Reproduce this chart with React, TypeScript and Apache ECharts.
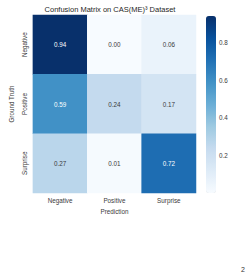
import React, { useEffect, useRef } from "react";
import * as echarts from "echarts";

// Confusion matrix rows = ground truth, columns = prediction
const classes = ["Negative", "Positive", "Surprise"];
const rowNegative = [0.94, 0.0, 0.06];
const rowPositive = [0.59, 0.24, 0.17];
const rowSurprise = [0.27, 0.01, 0.72];
const colorbarTicks = [0.2, 0.4, 0.6, 0.8];

// matplotlib "Blues"
const blues = [
  "#f7fbff",
  "#deebf7",
  "#c6dbef",
  "#9ecae1",
  "#6baed6",
  "#4292c6",
  "#2171b5",
  "#08519c",
  "#08306b",
];

const FONT = "Liberation Sans, Arial, sans-serif";

export default function App() {
  const ref = useRef<HTMLDivElement>(null);

  useEffect(() => {
    if (!ref.current) return;
    const chart = echarts.init(ref.current, null, { renderer: "svg" });

    const rows = [rowNegative, rowPositive, rowSurprise];
    const vmax = Math.max(...rows.flat());
    const data: any[] = [];
    rows.forEach((row, yi) => {
      row.forEach((v, xi) => {
        data.push({
          value: [xi, yi, v],
          label: { color: v > vmax / 2 ? "#ffffff" : "#3a3a3a" },
        });
      });
    });

    chart.setOption({
      animation: false,
      backgroundColor: "#ffffff",
      title: {
        text: "Confusion Matrix on CAS(ME)³ Dataset",
        left: 110,
        textAlign: "center",
        top: 5,
        padding: 0,
        textStyle: {
          fontFamily: FONT,
          fontSize: 7.5,
          fontWeight: "normal",
          color: "#262626",
        },
      },
      grid: [
        { left: 25, top: 15, width: 171, height: 178 },
        { left: 206, top: 16, width: 10, height: 177 },
      ],
      xAxis: [
        {
          type: "category",
          gridIndex: 0,
          data: classes,
          name: "Prediction",
          nameLocation: "middle",
          nameGap: 15,
          nameTextStyle: { fontFamily: FONT, fontSize: 6.3, color: "#3a3a3a" },
          axisLine: { show: false },
          axisTick: { show: false },
          splitLine: { show: false },
          axisLabel: {
            fontFamily: FONT,
            fontSize: 6.3,
            color: "#3a3a3a",
            margin: 4,
          },
        },
        {
          type: "value",
          gridIndex: 1,
          show: false,
          min: 0,
          max: 1,
        },
      ],
      yAxis: [
        {
          type: "category",
          gridIndex: 0,
          data: classes,
          inverse: true,
          name: "Ground Truth",
          nameLocation: "middle",
          nameGap: 18,
          nameRotate: 90,
          nameTextStyle: { fontFamily: FONT, fontSize: 6.3, color: "#3a3a3a" },
          axisLine: { show: false },
          axisTick: { show: false },
          splitLine: { show: false },
          axisLabel: {
            fontFamily: FONT,
            fontSize: 6.3,
            color: "#3a3a3a",
            rotate: 90,
            margin: 8,
            verticalAlign: "middle",
            align: "center",
          },
        },
        {
          type: "value",
          gridIndex: 1,
          position: "right",
          min: 0,
          max: vmax,
          interval: 0.2,
          axisLine: { show: false },
          splitLine: { show: false },
          axisTick: {
            show: true,
            length: 2,
            lineStyle: { color: "#3a3a3a", width: 1 },
            customValues: colorbarTicks,
          },
          axisLabel: {
            fontFamily: FONT,
            fontSize: 6.3,
            color: "#3a3a3a",
            margin: 3,
            customValues: colorbarTicks,
            formatter: (v: number) => v.toFixed(1),
          },
        },
      ],
      visualMap: {
        type: "continuous",
        min: 0,
        max: vmax,
        calculable: false,
        seriesIndex: 0,
        orient: "vertical",
        left: 206,
        top: 16,
        padding: 0,
        itemWidth: 10,
        itemHeight: 177,
        text: ["", ""],
        showLabel: false,
        inRange: { color: blues },
      },
      series: [
        {
          type: "heatmap",
          xAxisIndex: 0,
          yAxisIndex: 0,
          data,
          label: {
            show: true,
            fontFamily: FONT,
            fontSize: 6.3,
            formatter: (p: any) => p.value[2].toFixed(2),
          },
          itemStyle: { borderWidth: 0 },
          emphasis: { disabled: true },
        },
        {
          type: "scatter",
          xAxisIndex: 1,
          yAxisIndex: 1,
          data: [],
          silent: true,
        },
      ],
      graphic: [
        {
          type: "text",
          left: 241,
          top: 266,
          style: {
            text: "2",
            fontFamily: FONT,
            fontSize: 7,
            fill: "#333333",
          },
        },
      ],
    });

    return () => chart.dispose();
  }, []);

  return (
    <div
      ref={ref}
      style={{ position: "fixed", left: 0, top: 0, width: 252, height: 275 }}
    />
  );
}
